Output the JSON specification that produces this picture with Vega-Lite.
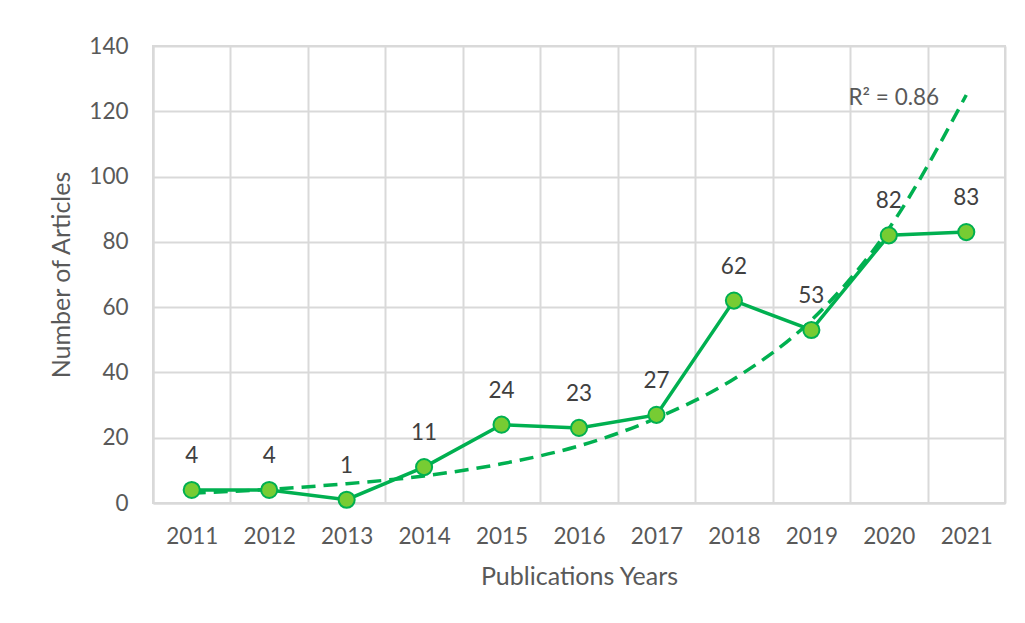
{
  "$schema": "https://vega.github.io/schema/vega-lite/v6.json",
  "width": 852,
  "height": 457,
  "autosize": {"type": "none"},
  "padding": {"left": 153, "top": 46, "right": 20, "bottom": 120},
  "background": "white",
  "config": {
    "font": "Lato",
    "view": {"stroke": "#d9d9d9", "strokeWidth": 2},
    "axis": {
      "labelFont": "Lato", "titleFont": "Lato",
      "labelFontSize": 22.5, "titleFontSize": 25,
      "labelColor": "#595959", "titleColor": "#595959",
      "titleFontWeight": "normal",
      "gridColor": "#d9d9d9", "gridWidth": 2,
      "domainColor": "#d9d9d9", "domainWidth": 2,
      "ticks": false
    }
  },
  "datasets": {
    "articles": [
      {"year": "2011", "count": 4},
      {"year": "2012", "count": 4},
      {"year": "2013", "count": 1},
      {"year": "2014", "count": 11},
      {"year": "2015", "count": 24},
      {"year": "2016", "count": 23},
      {"year": "2017", "count": 27},
      {"year": "2018", "count": 62},
      {"year": "2019", "count": 53},
      {"year": "2020", "count": 82},
      {"year": "2021", "count": 83}
    ],
    "trend": [
      {"year": "2011", "fit": 3.0},
      {"year": "2012", "fit": 4.2},
      {"year": "2013", "fit": 5.9},
      {"year": "2014", "fit": 8.3},
      {"year": "2015", "fit": 12.0},
      {"year": "2016", "fit": 17.5},
      {"year": "2017", "fit": 26.0},
      {"year": "2018", "fit": 38.0},
      {"year": "2019", "fit": 56.0},
      {"year": "2020", "fit": 84.0},
      {"year": "2021", "fit": 125.0}
    ],
    "note": [
      {"year": "2020", "v": 124, "label": "R² = 0.86"}
    ]
  },
  "layer": [
    {
      "data": {"name": "trend"},
      "mark": {"type": "line", "color": "#00B050", "strokeWidth": 3.5, "strokeDash": [14, 8], "interpolate": "monotone"},
      "encoding": {
        "x": {
          "field": "year", "type": "ordinal",
          "scale": {"type": "band", "paddingInner": 0, "paddingOuter": 0},
          "axis": {"title": "Publications Years", "labelAngle": 0, "tickBand": "extent", "grid": true, "labelPadding": 22, "titlePadding": 17}
        },
        "y": {
          "field": "fit", "type": "quantitative",
          "scale": {"domain": [0, 140], "nice": false},
          "axis": {"title": "Number of Articles", "values": [0, 20, 40, 60, 80, 100, 120, 140], "labelPadding": 25, "titlePadding": 14, "grid": true}
        }
      }
    },
    {
      "data": {"name": "articles"},
      "mark": {"type": "line", "color": "#00B050", "strokeWidth": 3.5},
      "encoding": {
        "x": {"field": "year", "type": "ordinal"},
        "y": {"field": "count", "type": "quantitative"}
      }
    },
    {
      "data": {"name": "articles"},
      "mark": {"type": "point", "filled": true, "fill": "#77CC33", "stroke": "#00B050", "strokeWidth": 2, "size": 260, "opacity": 1},
      "encoding": {
        "x": {"field": "year", "type": "ordinal"},
        "y": {"field": "count", "type": "quantitative"}
      }
    },
    {
      "data": {"name": "articles"},
      "mark": {"type": "text", "fontSize": 22.5, "color": "#404040", "baseline": "alphabetic", "dy": -27},
      "encoding": {
        "x": {"field": "year", "type": "ordinal"},
        "y": {"field": "count", "type": "quantitative"},
        "text": {"field": "count"}
      }
    },
    {
      "data": {"name": "note"},
      "mark": {"type": "text", "fontSize": 22.5, "color": "#595959", "baseline": "middle", "dx": 5},
      "encoding": {
        "x": {"field": "year", "type": "ordinal"},
        "y": {"field": "v", "type": "quantitative"},
        "text": {"field": "label"}
      }
    }
  ]
}
